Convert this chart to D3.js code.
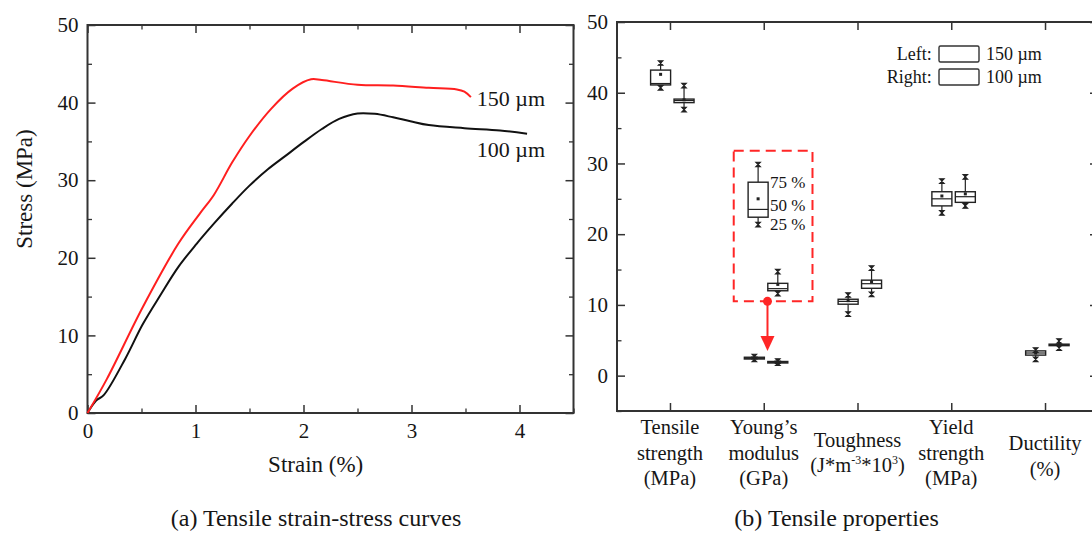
<!DOCTYPE html>
<html>
<head>
<meta charset="utf-8">
<script src="https://cdn.jsdelivr.net/npm/d3@7"></script>
<style>
  body { margin: 0; background: #fff; }
  text { font-family: "Liberation Serif", "Times New Roman", serif; fill: #161616; }
</style>
</head>
<body>
<div id="chart"></div>
<script>
// ---- (a) strain-stress curves ----
var strain150 = [0, 0.18, 0.51, 0.84, 1.04, 1.17, 1.34, 1.50, 1.70, 1.90, 2.07, 2.17, 2.50, 2.83, 3.16, 3.42, 3.49, 3.55];
var stress150 = [0, 4.4, 13.6, 21.8, 25.7, 28.1, 32.3, 35.7, 39.2, 41.8, 43.0, 42.9, 42.3, 42.2, 41.9, 41.7, 41.4, 40.7];
var strain100 = [0, 0.08, 0.15, 0.35, 0.51, 0.68, 0.84, 1.01, 1.17, 1.34, 1.50, 1.67, 1.83, 2.00, 2.17, 2.33, 2.50, 2.66, 2.83, 2.99, 3.16, 3.49, 3.82, 4.07];
var stress100 = [0, 1.6, 2.3, 7.0, 11.4, 15.3, 18.8, 21.8, 24.4, 27.0, 29.3, 31.4, 33.1, 34.9, 36.6, 37.9, 38.6, 38.55, 38.1, 37.6, 37.1, 36.7, 36.4, 36.0];

// ---- (b) box plots ----
var categories = [["Tensile", "strength", "(MPa)"], ["Young\u2019s", "modulus", "(GPa)"], ["Toughness", "(J*m-3*103)"], ["Yield", "strength", "(MPa)"], ["Ductility", "(%)"]];
// left boxes: 150 um
var min150 = [40.7, 2.3, 8.7, 23.0, 2.3];
var q1_150 = [41.1, 2.35, 10.1, 24.0, 2.9];
var med150 = [41.3, 2.45, 10.5, 25.0, 3.2];
var q3_150 = [43.2, 2.6, 10.8, 26.0, 3.5];
var max150 = [44.2, 2.7, 11.4, 27.5, 3.6];
var mean150 = [42.6, 2.5, 10.6, 25.4, 3.2];
// right boxes: 100 um
var min100 = [37.6, 1.75, 11.5, 24.0, 3.9];
var q1_100 = [38.6, 1.8, 12.35, 24.5, 4.3];
var med100 = [38.9, 1.9, 13.0, 25.3, 4.37];
var q3_100 = [39.1, 2.0, 13.5, 26.0, 4.45];
var max100 = [41.0, 2.05, 15.2, 28.1, 4.9];
var mean100 = [39.0, 1.9, 13.3, 25.7, 4.4];
// magnified Young's modulus boxes inside the dashed frame [150, 100]
var zoomMin = [21.35, 11.6];
var zoomQ1 = [22.4, 12.0];
var zoomMed = [23.5, 12.3];
var zoomQ3 = [27.35, 13.05];
var zoomMax = [29.85, 14.7];
var zoomMean = [25.0, 12.9];
var zoomFrame = [1.68, 2.52, 10.5, 31.8]; // x0, x1 (category units), y0, y1
var arrowEnd = 3.5;

var width = 1092, height = 533;
var frameColor = "#333";

var svg = d3.select("#chart")
  .append("svg")
  .attr("width", width)
  .attr("height", height)
  .style("display", "block");

svg.append("rect").attr("width", width).attr("height", height).attr("fill", "#fff");

//draws major + minor inward ticks on all four sides
function frame(g, x, y, xMaj, xMin, yMaj, yMin, xLabels, yLabels) {
  var x0 = x.range()[0], x1 = x.range()[1], y0 = y.range()[0], y1 = y.range()[1];
  var sides = [
    [d3.axisBottom(x), xMaj, xLabels, "translate(0," + y0 + ")", 10],
    [d3.axisTop(x), xMaj, false, "translate(0," + y1 + ")", 8],
    [d3.axisLeft(y), yMaj, yLabels, "translate(" + x0 + ",0)", 9],
    [d3.axisRight(y), yMaj, false, "translate(" + x1 + ",0)", 8]
  ];
  sides.forEach(function(s) {
    var maj = s[0].tickValues(s[1]).tickSize(-8).tickPadding(s[4])
      .tickFormat(s[2] ? d3.format("d") : "");
    var a = g.append("g").attr("transform", s[3]).call(maj);
    a.select(".domain").remove();
    a.selectAll("line").attr("stroke", frameColor).attr("stroke-width", 1.5);
    a.selectAll("text").style("font-size", "21px").attr("fill", "#161616");
  });
  var minors = [
    [d3.axisBottom(x), "translate(0," + y0 + ")", xMin],
    [d3.axisTop(x), "translate(0," + y1 + ")", xMin],
    [d3.axisLeft(y), "translate(" + x0 + ",0)", yMin],
    [d3.axisRight(y), "translate(" + x1 + ",0)", yMin]
  ];
  minors.forEach(function(s) {
    if (!s[2].length) return;
    var a = g.append("g").attr("transform", s[1])
      .call(s[0].tickValues(s[2]).tickSize(-4.5).tickFormat(""));
    a.select(".domain").remove();
    a.selectAll("line").attr("stroke", frameColor).attr("stroke-width", 1.3);
  });
  g.append("rect")
    .attr("x", x0).attr("y", y1)
    .attr("width", x1 - x0).attr("height", y0 - y1)
    .attr("fill", "none").attr("stroke", frameColor).attr("stroke-width", 2);
}

// ================= panel (a) =================
var xL = d3.scaleLinear().domain([0, 4.5]).range([87.5, 573.5]);
var yL = d3.scaleLinear().domain([0, 50]).range([413, 25]);
var gA = svg.append("g");

frame(gA, xL, yL, [0, 1, 2, 3, 4], [0.5, 1.5, 2.5, 3.5, 4.5], [0, 10, 20, 30, 40, 50], [5, 15, 25, 35, 45], true, true);

var line = d3.line()
  .x(function(d) { return xL(d[0]); })
  .y(function(d) { return yL(d[1]); })
  .curve(d3.curveCatmullRom.alpha(0.5));

gA.append("path")
  .datum(d3.zip(strain100, stress100))
  .attr("d", line)
  .attr("fill", "none").attr("stroke", "#111").attr("stroke-width", 2);

gA.append("path")
  .datum(d3.zip(strain150, stress150))
  .attr("d", line)
  .attr("fill", "none").attr("stroke", "#ff1f1f").attr("stroke-width", 2);

gA.append("text").attr("x", 476.8).attr("y", 98.6).attr("dy", "0.35em")
  .style("font-size", "22px").text("150 \u00b5m");
gA.append("text").attr("x", 476.8).attr("y", 149.7).attr("dy", "0.35em")
  .style("font-size", "22px").text("100 \u00b5m");

gA.append("text").attr("x", 315.7).attr("y", 472)
  .attr("text-anchor", "middle").style("font-size", "23px").text("Strain (%)");
gA.append("text")
  .attr("transform", "translate(32,189) rotate(-90)")
  .attr("text-anchor", "middle").style("font-size", "23px").text("Stress (MPa)");
gA.append("text").attr("x", 316).attr("y", 526)
  .attr("text-anchor", "middle").style("font-size", "24px").text("(a) Tensile strain-stress curves");

// ================= panel (b) =================
var xR = d3.scaleLinear().domain([0.435, 5.565]).range([617, 1098]);
var yR = d3.scaleLinear().domain([-5, 50]).range([411, 22]);
var gB = svg.append("g");

frame(gB, xR, yR, [1, 2, 3, 4, 5], [], [0, 10, 20, 30, 40, 50], [-5, 5, 15, 25, 35, 45], false, true);

// category labels (multi-line)
categories.forEach(function(lines, i) {
  var t = gB.append("text")
    .attr("text-anchor", "middle")
    .style("font-size", "20.5px");
  var y0 = lines.length === 3 ? 434 : (i === 2 ? 446.5 : 450);
  lines.forEach(function(s, j) {
    if (s === "(J*m-3*103)") {
      t.append("tspan").attr("x", xR(i + 1)).attr("y", y0 + j * 25.5).text("(J*m");
      t.append("tspan").attr("dy", -8).style("font-size", "12px").text("-3");
      t.append("tspan").attr("dy", 8).text("*10");
      t.append("tspan").attr("dy", -8).style("font-size", "12px").text("3");
      t.append("tspan").attr("dy", 8).text(")");
    } else {
      t.append("tspan").attr("x", xR(i + 1)).attr("y", y0 + j * 25.5).text(s);
    }
  });
});

var boxW = 20;
var offL = -0.1, offR = 0.15;

function marker(g, cx, cy) {
  g.append("path")
    .attr("d", "M" + (cx - 2.3) + "," + (cy - 2.3) + "H" + (cx + 2.3) + "L" + (cx - 2.3) + "," + (cy + 2.3) + "H" + (cx + 2.3) + "Z")
    .attr("fill", "#222").attr("stroke", "#222").attr("stroke-width", 1.1);
}

function box(g, cx, mn, q1, md, q3, mx, mean) {
  g.append("line").attr("x1", cx).attr("x2", cx).attr("y1", yR(q3)).attr("y2", yR(mx))
    .attr("stroke", "#222").attr("stroke-width", 1.2);
  g.append("line").attr("x1", cx).attr("x2", cx).attr("y1", yR(q1)).attr("y2", yR(mn))
    .attr("stroke", "#222").attr("stroke-width", 1.2);
  g.append("rect")
    .attr("x", cx - boxW / 2).attr("y", yR(q3))
    .attr("width", boxW).attr("height", Math.max(yR(q1) - yR(q3), 1.5))
    .attr("fill", "#fff").attr("stroke", "#222").attr("stroke-width", 1.4);
  g.append("line").attr("x1", cx - boxW / 2).attr("x2", cx + boxW / 2)
    .attr("y1", yR(md)).attr("y2", yR(md))
    .attr("stroke", "#222").attr("stroke-width", 1.2);
  g.append("rect").attr("x", cx - 1.5).attr("y", yR(mean) - 1.5)
    .attr("width", 3).attr("height", 3).attr("fill", "#222");
  marker(g, cx, yR(mx));
  marker(g, cx, yR(mn));
}

categories.forEach(function(c, i) {
  box(gB, xR(i + 1 + offL), min150[i], q1_150[i], med150[i], q3_150[i], max150[i], mean150[i]);
  box(gB, xR(i + 1 + offR), min100[i], q1_100[i], med100[i], q3_100[i], max100[i], mean100[i]);
});

// magnified Young's modulus
[offL + 0.04, offR].forEach(function(o, k) {
  box(gB, xR(2 + o), zoomMin[k], zoomQ1[k], zoomMed[k], zoomQ3[k], zoomMax[k], zoomMean[k]);
});

var pctX = xR(2 + offL + 0.04) + 12;
gB.append("text").attr("x", pctX).attr("y", yR(zoomQ3[0]) + 6).style("font-size", "17px").text("75 %");
gB.append("text").attr("x", pctX).attr("y", yR(zoomMed[0]) + 2).style("font-size", "17px").text("50 %");
gB.append("text").attr("x", pctX).attr("y", yR(zoomQ1[0]) + 13).style("font-size", "17px").text("25 %");

var red = "#ff2626";
gB.append("rect")
  .attr("x", xR(zoomFrame[0])).attr("y", yR(zoomFrame[3]))
  .attr("width", xR(zoomFrame[1]) - xR(zoomFrame[0]))
  .attr("height", yR(zoomFrame[2]) - yR(zoomFrame[3]))
  .attr("fill", "none").attr("stroke", red).attr("stroke-width", 2)
  .attr("stroke-dasharray", "10,6");

var ax = xR(2.04);
gB.append("line").attr("x1", ax).attr("x2", ax)
  .attr("y1", yR(zoomFrame[2])).attr("y2", yR(arrowEnd) - 12)
  .attr("stroke", red).attr("stroke-width", 2);
gB.append("path")
  .attr("d", "M" + (ax - 7) + "," + (yR(arrowEnd) - 15) + "L" + (ax + 7) + "," + (yR(arrowEnd) - 15) + "L" + ax + "," + yR(arrowEnd) + "Z")
  .attr("fill", red);
gB.append("circle").attr("cx", ax).attr("cy", yR(zoomFrame[2])).attr("r", 4.5).attr("fill", red);

// legend
var lg = gB.append("g").style("font-size", "18px");
[["Left:", "150 \u00b5m", 46], ["Right:", "100 \u00b5m", 69]].forEach(function(r) {
  lg.append("text").attr("x", 931.7).attr("y", r[2] + 14).attr("text-anchor", "end").text(r[0]);
  lg.append("rect").attr("x", 939).attr("y", r[2]).attr("width", 40).attr("height", 16)
    .attr("rx", 1.5).attr("fill", "#fff").attr("stroke", "#333").attr("stroke-width", 1.4);
  lg.append("text").attr("x", 986).attr("y", r[2] + 14).text(r[1]);
});

gB.append("text").attr("x", 836.6).attr("y", 526)
  .attr("text-anchor", "middle").style("font-size", "24px").text("(b) Tensile properties");
</script>
</body>
</html>
